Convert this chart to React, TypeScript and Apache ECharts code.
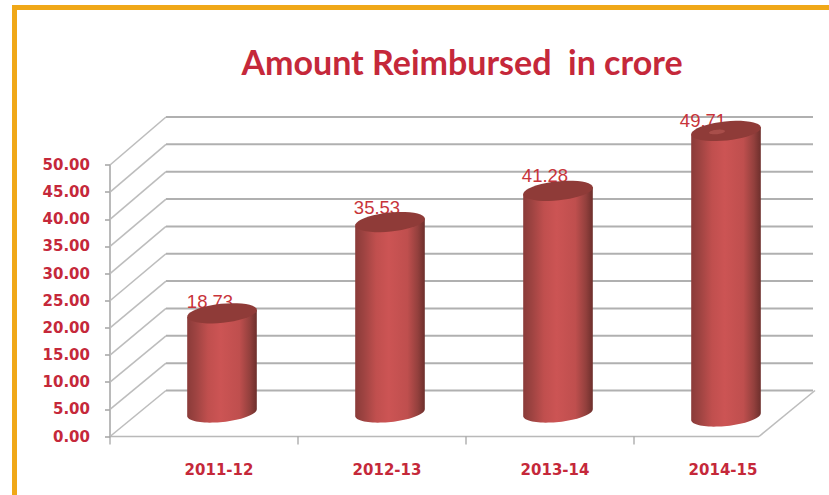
import React, { useEffect, useRef } from "react";
import * as echarts from "echarts";

const categories = ["2011-12", "2012-13", "2013-14", "2014-15"];
const amounts = [18.73, 35.53, 41.28, 49.71];
const yTicks = [0, 5, 10, 15, 20, 25, 30, 35, 40, 45, 50];
const titleText = "Amount Reimbursed  in crore";

const RED = "#c5283a";
const ORANGE = "#f0a818";
const GRID = "#b0b0b0";
const AXIS = "#a9a9a9";

// layout of the pseudo-3D box
const gridLeft = 138;
const bandWidth = 168;
const frontLeft = 110;
const frontRight = 759;
const wallDx = 56;
const wallRight = 813;
const cylRx = 35;
const cylRy = 9.5;
const cylTilt = (-6 * Math.PI) / 180;
const baseLift = 24;
const baseDrop = [0, 0, 0, 4];
const labelDx = [-12, -13, -13, -23];
const labelDy = [-12, -15, -15, -10];

const wallLift = (v: number) => 46 + 0.04 * v;
const midLift = (v: number) => 21.5 + Math.max(0, v - 45) * 3;

function ellipsePoints(cx: number, cy: number, rx: number, ry: number, from: number, to: number) {
  const pts: number[][] = [];
  const n = 40;
  for (let i = 0; i <= n; i++) {
    const t = from + ((to - from) * i) / n;
    pts.push([
      cx + rx * Math.cos(t) * Math.cos(cylTilt) - ry * Math.sin(t) * Math.sin(cylTilt),
      cy + rx * Math.cos(t) * Math.sin(cylTilt) + ry * Math.sin(t) * Math.cos(cylTilt),
    ]);
  }
  return pts;
}

const renderFrame = (params: any, api: any) => {
  const v = api.value(1);
  const y = api.coord([0, v])[1];
  const by = y - wallLift(v);
  const children: any[] = [
    {
      type: "polyline",
      shape: { points: [[frontLeft, y], [frontLeft + wallDx, by]] },
      style: { stroke: "#bdbdbd", lineWidth: 1.6, fill: "none" },
    },
    {
      type: "line",
      shape: { x1: frontLeft + wallDx, y1: by, x2: wallRight, y2: by },
      style: { stroke: GRID, lineWidth: 2 },
    },
  ];
  if (v === 0) {
    const c0 = api.coord([0, 0])[0];
    children.push({
      type: "line",
      shape: { x1: frontLeft, y1: y, x2: frontRight, y2: y },
      style: { stroke: "#b9b9b9", lineWidth: 1.6 },
    });
    children.push({
      type: "line",
      shape: { x1: frontRight, y1: y, x2: wallRight + 2, y2: by },
      style: { stroke: "#bdbdbd", lineWidth: 1.6 },
    });
    [0, 1, 2].forEach((i) => {
      const tx = c0 + i * bandWidth + 76;
      children.push({
        type: "line",
        shape: { x1: tx, y1: y, x2: tx, y2: y + 8 },
        style: { stroke: "#9e9e9e", lineWidth: 1.2 },
      });
    });
    children.push({
      type: "line",
      shape: { x1: frontLeft, y1: y, x2: frontLeft, y2: y + 8 },
      style: { stroke: "#9e9e9e", lineWidth: 1.2 },
    });
  }
  return { type: "group", children };
};

const bodyFill = () =>
  new echarts.graphic.LinearGradient(0, 0, 1, 0, [
    { offset: 0, color: "#8a3b39" },
    { offset: 0.12, color: "#9d4341" },
    { offset: 0.3, color: "#c04f4e" },
    { offset: 0.48, color: "#cc5454" },
    { offset: 0.75, color: "#bf4f4e" },
    { offset: 0.9, color: "#93403d" },
    { offset: 1, color: "#6d2f2c" },
  ]);

const renderCylinder = (params: any, api: any) => {
  const i = api.value(0);
  const v = api.value(1);
  const cx = api.coord([i, 0])[0];
  const cyBase = api.coord([i, 0])[1] - baseLift + baseDrop[i];
  const cyTop = api.coord([i, v])[1] - midLift(v);
  const body = [
    ...ellipsePoints(cx, cyTop, cylRx, cylRy, Math.PI, Math.PI),
    ...ellipsePoints(cx, cyBase, cylRx, cylRy, Math.PI, 0),
    ...ellipsePoints(cx, cyTop, cylRx, cylRy, 0, 0),
  ];
  const children: any[] = [
    { type: "polygon", shape: { points: body }, style: { fill: bodyFill() } },
    {
      type: "text",
      style: {
        text: v.toFixed(2),
        x: cx + labelDx[i],
        y: cyTop + labelDy[i],
        align: "center",
        verticalAlign: "middle",
        fill: "#c8343a",
        font: '18.5px "Liberation Sans"',
      },
    },
    {
      type: "polygon",
      shape: { points: ellipsePoints(cx, cyTop, cylRx, cylRy, 0, Math.PI * 2) },
      style: { fill: "#8f3b38" },
    },
  ];
  if (i === categories.length - 1) {
    children.push({
      type: "polygon",
      shape: { points: ellipsePoints(cx - 9, cyTop + 1, 8, 2.2, 0, Math.PI * 2) },
      style: { fill: "#a84e4a" },
    });
  }
  return { type: "group", children };
};

export default function App() {
  const ref = useRef<HTMLDivElement>(null);
  useEffect(() => {
    const chart = echarts.init(ref.current!, undefined, { renderer: "svg" });
    chart.setOption({
      animation: false,
      backgroundColor: "#ffffff",
      title: {
        text: titleText,
        left: 457,
        top: 39,
        textAlign: "center",
        textStyle: { color: RED, fontFamily: "Lato", fontWeight: "bold", fontSize: 34 },
      },
      grid: { left: gridLeft, width: bandWidth * categories.length, top: 165, height: 271.5 },
      xAxis: {
        type: "category",
        data: categories,
        axisLine: { show: false },
        axisTick: { show: false },
        axisLabel: {
          color: RED,
          fontFamily: "DejaVu Sans",
          fontWeight: "bold",
          fontSize: 15,
          margin: 26,
          padding: [0, 6, 0, 0],
        },
      },
      yAxis: {
        type: "value",
        min: 0,
        max: 50,
        interval: 5,
        offset: gridLeft - frontLeft,
        splitLine: { show: false },
        axisLine: { show: true, lineStyle: { color: AXIS, width: 1.6 } },
        axisTick: { show: true, length: 5, lineStyle: { color: AXIS, width: 1.6 } },
        axisLabel: {
          color: RED,
          fontFamily: "DejaVu Sans",
          fontWeight: "bold",
          fontSize: 15,
          margin: 20,
          formatter: (v: number) => v.toFixed(2),
        },
      },
      graphic: [
        { type: "rect", shape: { x: 12, y: 5, width: 817, height: 5 }, style: { fill: ORANGE } },
        { type: "rect", shape: { x: 12, y: 5, width: 5, height: 490 }, style: { fill: ORANGE } },
      ],
      series: [
        {
          type: "custom",
          renderItem: renderFrame,
          data: yTicks.map((v) => [0, v]),
          encode: { x: 0, y: 1 },
          silent: true,
          z: 1,
        },
        {
          type: "custom",
          renderItem: renderCylinder,
          data: amounts.map((v, i) => [i, v]),
          encode: { x: 0, y: 1 },
          silent: true,
          z: 3,
        },
      ],
    });
    return () => chart.dispose();
  }, []);
  return (
    <div
      ref={ref}
      style={{ position: "absolute", left: 0, top: 0, width: 829, height: 495 }}
    />
  );
}
